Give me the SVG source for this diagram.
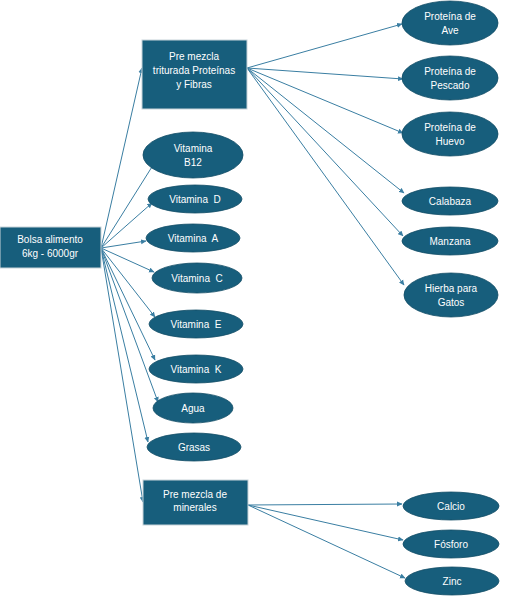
<svg xmlns="http://www.w3.org/2000/svg" width="506" height="600" viewBox="0 0 506 600">
<style>
.box{fill:#175e7c;stroke:#c8d3d9;stroke-width:1}
.ell{fill:#175e7c;stroke:#114c66;stroke-width:0.8}
.t{fill:#fff;font-family:"Liberation Sans",Arial,sans-serif;font-size:10px;text-anchor:middle;white-space:pre}
.c{fill:none;stroke:#3a7ea2;stroke-width:1;marker-end:url(#ah)}
</style>
<defs>
<marker id="ah" markerWidth="6" markerHeight="6" refX="5" refY="3" orient="auto" markerUnits="userSpaceOnUse">
<path d="M0,0.5 L5.5,3 L0,5.5 z" fill="#3a7ea2"/>
</marker>
</defs>
<rect width="506" height="600" fill="#fff"/>
<g id="connectors">
<line class="c" x1="101" y1="248" x2="142" y2="68"/>
<line class="c" x1="101" y1="248" x2="155" y2="162"/>
<line class="c" x1="101" y1="248" x2="152" y2="203"/>
<line class="c" x1="101" y1="248" x2="146" y2="241"/>
<line class="c" x1="101" y1="248" x2="154" y2="272"/>
<line class="c" x1="101" y1="248" x2="155" y2="317"/>
<line class="c" x1="101" y1="248" x2="155" y2="360"/>
<line class="c" x1="101" y1="248" x2="158" y2="402"/>
<line class="c" x1="101" y1="248" x2="148" y2="442"/>
<line class="c" x1="101" y1="248" x2="143" y2="502"/>
<line class="c" x1="247" y1="68" x2="402" y2="24"/>
<line class="c" x1="247" y1="68" x2="403" y2="79"/>
<line class="c" x1="247" y1="68" x2="403" y2="133"/>
<line class="c" x1="247" y1="68" x2="404" y2="193"/>
<line class="c" x1="247" y1="68" x2="403" y2="236"/>
<line class="c" x1="247" y1="68" x2="404" y2="285"/>
<line class="c" x1="248" y1="505" x2="402" y2="504"/>
<line class="c" x1="248" y1="505" x2="403" y2="540"/>
<line class="c" x1="248" y1="505" x2="405" y2="578"/>
</g>
<g id="bolsa"><rect class="box" x="0" y="227" width="101" height="41"/><text class="t" x="50" y="243">Bolsa alimento</text><text class="t" x="50" y="257">6kg - 6000gr</text></g>
<g id="premezcla-proteinas"><rect class="box" x="142" y="40" width="105" height="69"/><text class="t" x="194" y="60">Pre mezcla</text><text class="t" x="194" y="74">triturada Proteínas</text><text class="t" x="194" y="88">y Fibras</text></g>
<g id="premezcla-minerales"><rect class="box" x="143" y="480" width="105" height="45"/><text class="t" x="195" y="498">Pre mezcla de</text><text class="t" x="195" y="511">minerales</text></g>
<g id="ave"><ellipse class="ell" cx="450" cy="23" rx="48" ry="22"/><text class="t" x="450" y="20">Proteína de</text><text class="t" x="450" y="34">Ave</text></g>
<g id="pescado"><ellipse class="ell" cx="450" cy="78" rx="48" ry="22"/><text class="t" x="450" y="75">Proteína de</text><text class="t" x="450" y="89">Pescado</text></g>
<g id="huevo"><ellipse class="ell" cx="450" cy="134" rx="48" ry="22"/><text class="t" x="450" y="131">Proteína de</text><text class="t" x="450" y="145">Huevo</text></g>
<g id="calabaza"><ellipse class="ell" cx="450" cy="201" rx="48" ry="14"/><text class="t" x="450" y="205">Calabaza</text></g>
<g id="manzana"><ellipse class="ell" cx="450" cy="241" rx="48" ry="14"/><text class="t" x="450" y="245">Manzana</text></g>
<g id="hierba"><ellipse class="ell" cx="451" cy="295" rx="47" ry="22"/><text class="t" x="451" y="292">Hierba para</text><text class="t" x="451" y="306">Gatos</text></g>
<g id="b12"><ellipse class="ell" cx="193" cy="155" rx="50" ry="23"/><text class="t" x="193" y="152">Vitamina</text><text class="t" x="193" y="166">B12</text></g>
<g id="vitd"><ellipse class="ell" cx="195" cy="199" rx="47" ry="14"/><text class="t" x="195" y="203">Vitamina  D</text></g>
<g id="vita"><ellipse class="ell" cx="193" cy="238" rx="47" ry="14"/><text class="t" x="193" y="242">Vitamina  A</text></g>
<g id="vitc"><ellipse class="ell" cx="197" cy="278" rx="45" ry="15"/><text class="t" x="197" y="282">Vitamina  C</text></g>
<g id="vite"><ellipse class="ell" cx="196" cy="324" rx="47" ry="14"/><text class="t" x="196" y="328">Vitamina  E</text></g>
<g id="vitk"><ellipse class="ell" cx="196" cy="369" rx="47" ry="14"/><text class="t" x="196" y="373">Vitamina  K</text></g>
<g id="agua"><ellipse class="ell" cx="193" cy="408" rx="40" ry="15"/><text class="t" x="193" y="412">Agua</text></g>
<g id="grasas"><ellipse class="ell" cx="194" cy="447" rx="47" ry="14"/><text class="t" x="194" y="451">Grasas</text></g>
<g id="calcio"><ellipse class="ell" cx="451" cy="506" rx="48" ry="14"/><text class="t" x="451" y="510">Calcio</text></g>
<g id="fosforo"><ellipse class="ell" cx="451" cy="544" rx="48" ry="14"/><text class="t" x="451" y="548">Fósforo</text></g>
<g id="zinc"><ellipse class="ell" cx="452" cy="581" rx="47" ry="14"/><text class="t" x="452" y="585">Zinc</text></g>
</svg>
